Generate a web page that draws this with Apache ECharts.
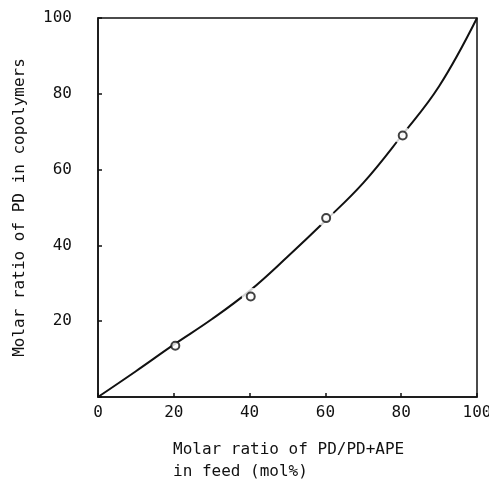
<!DOCTYPE html>
<html>
<head>
<meta charset="utf-8">
<script src="https://cdn.jsdelivr.net/npm/echarts@6/dist/echarts.min.js"></script>
<style>
  html, body { margin: 0; padding: 0; background: #fff; }
  #chart { width: 489px; height: 480px; }
</style>
</head>
<body>
<div id="chart"></div>
<script>
// 曲线 (feed mol% -> copolymer mol%)
const curveX = [0, 10, 20, 30, 40, 50, 60, 70, 80, 90, 100]
const curveY = [0, 6.8, 13.8, 20.5, 28, 37, 46.5, 56.5, 68.8, 82, 100]

// 实测点
const pointX = [20.4, 40.3, 60.2, 80.4]
const pointY = [13.5, 26.5, 47.2, 69.0]

const xTicks = [0, 20, 40, 60, 80, 100]
const yTicks = [20, 40, 60, 80, 100]

const font = 'DejaVu Sans Mono'
const ink = '#111'

const chart = echarts.init(document.getElementById('chart'))

const zip = (xs, ys) => xs.map((x, i) => [x, ys[i]])

chart.setOption({
  animation: false,
  backgroundColor: '#fff',
  grid: {
    left: 98, right: 12, top: 18, bottom: 83,
    containLabel: false, outerBoundsMode: 'none',
    show: true, borderColor: ink, borderWidth: 1.5
  },
  title: {
    text: 'Molar ratio of PD/PD+APE\nin feed (mol%)',
    left: 168, top: 434,
    textStyle: { fontFamily: font, fontSize: 16, fontWeight: 'normal', color: ink, lineHeight: 22 }
  },
  xAxis: {
    type: 'value', min: 0, max: 100, interval: 20,
    axisLine: { lineStyle: { color: ink, width: 1.5 } },
    axisTick: { inside: true, length: 4, lineStyle: { color: ink, width: 1.5 } },
    splitLine: { show: false },
    axisLabel: {
      margin: 8, fontFamily: font, fontSize: 16, color: ink,
      formatter: v => xTicks.includes(v) ? String(v) : ''
    }
  },
  yAxis: {
    type: 'value', min: 0, max: 100, interval: 20,
    name: 'Molar ratio of PD in copolymers',
    nameLocation: 'middle', nameGap: 70,
    nameTextStyle: { fontFamily: font, fontSize: 16, color: ink },
    axisLine: { lineStyle: { color: ink, width: 1.5 } },
    axisTick: { inside: true, length: 4, lineStyle: { color: ink, width: 1.5 } },
    splitLine: { show: false },
    axisLabel: {
      margin: 26, fontFamily: font, fontSize: 16, color: ink,
      formatter: v => yTicks.includes(v) ? String(v) : ''
    }
  },
  series: [
    {
      type: 'line', data: zip(curveX, curveY), smooth: 0.4,
      showSymbol: false, lineStyle: { color: ink, width: 2 }, z: 2
    },
    {
      // 原图中曲线在数据点附近断开
      type: 'scatter', data: zip(pointX, pointY).slice(1),
      symbol: 'circle', symbolSize: 18,
      itemStyle: { color: '#fff' }, z: 3, silent: true
    },
    {
      type: 'scatter', data: zip(pointX, pointY),
      symbol: 'circle', symbolSize: 8,
      itemStyle: { color: '#fff', borderColor: ink, borderWidth: 2 }, z: 4
    }
  ]
})
</script>
</body>
</html>
